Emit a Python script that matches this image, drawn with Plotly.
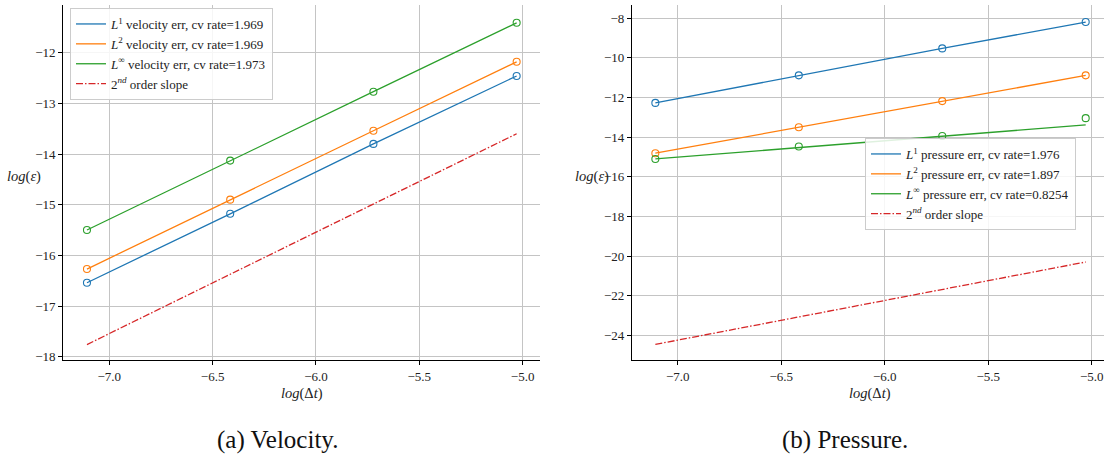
import plotly.graph_objects as go

# ---- data ----
x_logdt = [-7.108, -6.415, -5.722, -5.029]
x_ends = [-7.108, -5.029]

vel_L1 = [-16.54, -15.18, -13.80, -12.46]
vel_L2 = [-16.27, -14.90, -13.54, -12.18]
vel_Linf = [-15.50, -14.13, -12.77, -11.41]
vel_slope2 = [-17.76, -13.60]

p_L1 = [-12.27, -10.88, -9.52, -8.19]
p_L2 = [-14.81, -13.50, -12.18, -10.88]
p_Linf = [-15.10, -14.47, -13.94, -13.04]
p_Linf_fit = [-15.10, -13.38]
p_slope2 = [-24.46, -20.30]

vel_rates = ["1.969", "1.969", "1.973"]
p_rates = ["1.976", "1.897", "0.8254"]

BLUE, ORANGE, GREEN, RED = "#1f77b4", "#ff7f0e", "#2ca02c", "#d62728"
FONT = "Liberation Serif"
LW = 1.3

fig = go.Figure()

def add_series(xa, ya, legend, ys_line, xs_line, ys_mark, color, name):
    fig.add_trace(go.Scatter(x=xs_line, y=ys_line, mode="lines", name=name,
                             line=dict(color=color, width=LW),
                             xaxis=xa, yaxis=ya, legend=legend, showlegend=True))
    fig.add_trace(go.Scatter(x=x_logdt, y=ys_mark, mode="markers",
                             marker=dict(symbol="circle-open", size=7, color=color,
                                         line=dict(width=1.1, color=color)),
                             xaxis=xa, yaxis=ya, showlegend=False, hoverinfo="skip"))

# velocity panel
add_series("x", "y", "legend", vel_L1, x_logdt, vel_L1, BLUE,
           f"<i>L</i><sup>1</sup> velocity err, cv rate={vel_rates[0]}")
add_series("x", "y", "legend", vel_L2, x_logdt, vel_L2, ORANGE,
           f"<i>L</i><sup>2</sup> velocity err, cv rate={vel_rates[1]}")
add_series("x", "y", "legend", vel_Linf, x_logdt, vel_Linf, GREEN,
           f"<i>L</i><sup>∞</sup> velocity err, cv rate={vel_rates[2]}")
fig.add_trace(go.Scatter(x=x_ends, y=vel_slope2, mode="lines",
                         name="2<sup><i>nd</i></sup> order slope",
                         line=dict(color=RED, width=LW, dash="7px,2px,1.5px,2px"),
                         xaxis="x", yaxis="y", legend="legend"))

# pressure panel
add_series("x2", "y2", "legend2", p_L1, x_logdt, p_L1, BLUE,
           f"<i>L</i><sup>1</sup> pressure err, cv rate={p_rates[0]}")
add_series("x2", "y2", "legend2", p_L2, x_logdt, p_L2, ORANGE,
           f"<i>L</i><sup>2</sup> pressure err, cv rate={p_rates[1]}")
add_series("x2", "y2", "legend2", p_Linf_fit, x_ends, p_Linf, GREEN,
           f"<i>L</i><sup>∞</sup> pressure err, cv rate={p_rates[2]}")
fig.add_trace(go.Scatter(x=x_ends, y=p_slope2, mode="lines",
                         name="2<sup><i>nd</i></sup> order slope",
                         line=dict(color=RED, width=LW, dash="7px,2px,1.5px,2px"),
                         xaxis="x2", yaxis="y2", legend="legend2"))

H = 459.0
W = 1104.0
ydom = [(H - 360) / H, (H - 4.7) / H]

axis_common = dict(showgrid=True, gridcolor="#c4c4c4", gridwidth=1,
                   zeroline=False, showline=True, linecolor="black", linewidth=1.2,
                   ticks="outside", ticklen=4, tickcolor="black", tickwidth=1,
                   tickfont=dict(family=FONT, size=13, color="#222"),
                   automargin=False, mirror=False)

xt_vals = [-7.0, -6.5, -6.0, -5.5, -5.0]
xt_text = ["−7.0", "−6.5", "−6.0", "−5.5", "−5.0"]

fig.update_layout(
    width=1104, height=459,
    margin=dict(l=0, r=0, t=0, b=0),
    paper_bgcolor="white", plot_bgcolor="white",
    font=dict(family=FONT, size=13, color="#222"),
    xaxis=dict(domain=[63.3 / W, 540 / W], range=[-7.2225, -4.916], anchor="y",
               tickmode="array", tickvals=xt_vals, ticktext=xt_text, **axis_common),
    yaxis=dict(domain=ydom, range=[-18.065, -11.053], anchor="x",
               tickmode="array", tickvals=[-18, -17, -16, -15, -14, -13, -12],
               ticktext=["−18", "−17", "−16", "−15", "−14", "−13", "−12"], **axis_common),
    xaxis2=dict(domain=[632 / W, 1.0], range=[-7.2208, -4.9406], anchor="y2",
                tickmode="array", tickvals=xt_vals, ticktext=xt_text, **axis_common),
    yaxis2=dict(domain=ydom, range=[-25.247, -7.313], anchor="x2",
                tickmode="array", tickvals=[-24, -22, -20, -18, -16, -14, -12, -10, -8],
                ticktext=["−24", "−22", "−20", "−18", "−16", "−14", "−12", "−10", "−8"],
                **axis_common),
    legend=dict(x=70 / W, y=(H - 8) / H, xanchor="left", yanchor="top",
                bgcolor="rgba(255,255,255,0.85)", bordercolor="#cccccc", borderwidth=1,
                font=dict(family=FONT, size=13, color="#222"), tracegroupgap=0,
                itemwidth=30),
    legend2=dict(x=865 / W, y=(H - 138) / H, xanchor="left", yanchor="top",
                 bgcolor="rgba(255,255,255,0.85)", bordercolor="#cccccc", borderwidth=1,
                 font=dict(family=FONT, size=13, color="#222"), tracegroupgap=0,
                 itemwidth=30),
    showlegend=True,
)

ann_font = dict(family=FONT, size=14.5, color="#222")
# axis titles
for cx in [301.7, 869.5]:
    fig.add_annotation(x=cx / W, y=(H - 393) / H, xref="paper", yref="paper",
                       text="<i>log</i>(Δ<i>t</i>)", showarrow=False, font=ann_font,
                       xanchor="center", yanchor="middle")
for cx in [24, 592]:
    fig.add_annotation(x=cx / W, y=(H - 177) / H, xref="paper", yref="paper",
                       text="<i>log</i>(<i>ε</i>)", showarrow=False, font=ann_font,
                       xanchor="center", yanchor="middle")
# captions
fig.add_annotation(x=277 / W, y=(H - 440) / H, xref="paper", yref="paper",
                   text="(a) Velocity.", showarrow=False,
                   font=dict(family=FONT, size=25, color="#111"),
                   xanchor="center", yanchor="middle")
fig.add_annotation(x=845 / W, y=(H - 440) / H, xref="paper", yref="paper",
                   text="(b) Pressure.", showarrow=False,
                   font=dict(family=FONT, size=25, color="#111"),
                   xanchor="center", yanchor="middle")

fig.write_html("out.html", config={"displayModeBar": False},
               post_script="document.body.style.margin='0';document.body.style.overflow='hidden';")
